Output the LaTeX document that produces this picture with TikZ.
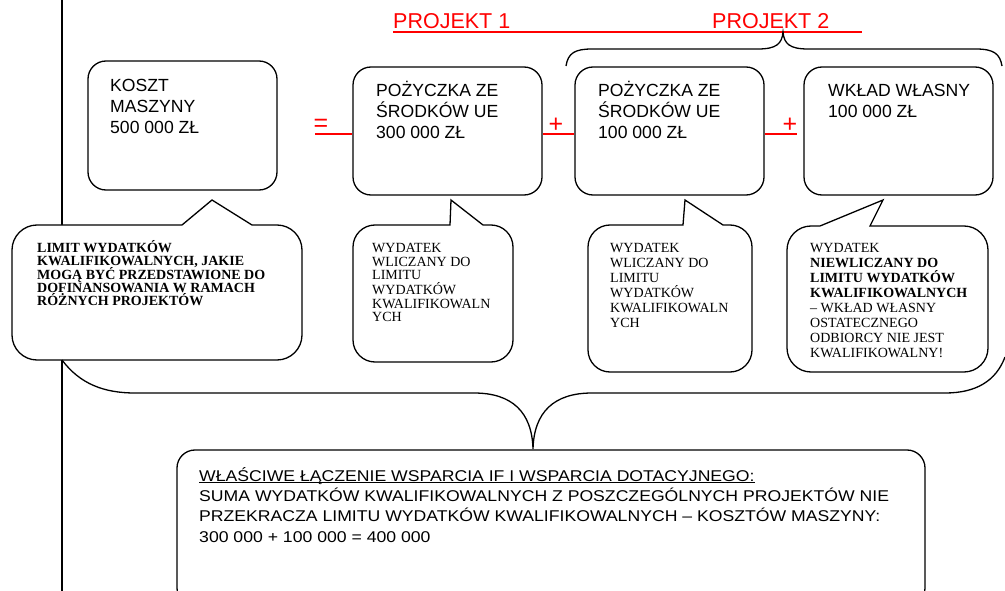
\documentclass[tikz,border=0pt]{standalone}
\usepackage{fontspec}
\setmainfont{Liberation Sans}
\newfontfamily\serifc{Liberation Serif}
\newfontfamily\sanswide{Liberation Sans}[FakeStretch=1.13]
\newcommand\ml[1]{\vtop{\lineskiplimit=-100pt\relax\lineskip=0pt\relax\let\\\cr\halign{##\hfil\cr#1\crcr}}}
% callout: x1,y1,x2,y2,r,pointer-left,tipx,tipy,pointer-right
\newcommand\calloutpath[9]{(#6,#2) -- (#7,#8) -- (#9,#2) -- ({#3-#5},#2)
 .. controls ({#3-0.45*#5},#2) and (#3,{#2+0.45*#5}) .. (#3,{#2+#5})
 -- (#3,{#4-#5}) .. controls (#3,{#4-0.45*#5}) and ({#3-0.45*#5},#4) .. ({#3-#5},#4)
 -- ({#1+#5},#4) .. controls ({#1+0.45*#5},#4) and (#1,{#4-0.45*#5}) .. (#1,{#4-#5})
 -- (#1,{#2+#5}) .. controls (#1,{#2+0.45*#5}) and ({#1+0.45*#5},#2) .. ({#1+#5},#2) -- cycle}
\begin{document}
\begin{tikzpicture}[x=1pt,y=-1pt,
  box/.style={draw, line width=1.3pt, rounded corners=18pt, inner sep=0pt},
  call/.style={draw, fill=white, line width=1.3pt},
  brace/.style={draw, line width=1.3pt},
  redline/.style={draw=red, line width=2pt},
  txt/.style={inner sep=0pt, anchor=base west},
  boxtxt/.style={txt, font=\fontsize{17.6}{20.7}\selectfont},
  calltxt/.style={txt, font=\serifc\fontsize{14}{14}\selectfont},
  calltxtb/.style={txt, font=\serifc\fontsize{14}{15}\selectfont},
  sign/.style={inner sep=0pt, text=red, font=\fontsize{25}{25}\selectfont},
  proj/.style={txt, text=red, font=\fontsize{21.5}{24}\selectfont}]
\clip (0,0) rectangle (1005,591);
\fill[white] (0,0) rectangle (1005,591);

% vertical rule
\coordinate (vtop) at (62,0);
\coordinate (vbot) at (62,591);
\draw[line width=2pt] (vtop) -- (vbot);

% project headings
\node[proj] (pr1) at (393,29) {PROJEKT 1};
\node[proj] (pr2) at (712,29) {PROJEKT 2};
\coordinate (ulend) at (862,32);
\draw[redline] (pr1.base west) ++(0,3) -- (ulend);

% top brace
\coordinate (tbl) at (566,66);
\coordinate (tbtip) at (783,32);
\coordinate (tbr) at (1002,66);
\draw[brace] (tbl) .. controls (568,53) and (575,49) .. (592,49) -- (758,49)
  .. controls (776,49) and (782,44) .. (tbtip)
  .. controls (784,44) and (790,49) .. (808,49) -- (976,49)
  .. controls (994,49) and (1000,54) .. (tbr);

% boxes
\node[box, minimum width=189pt, minimum height=129pt] (b1) at (182.5,125.5) {};
\node[box, minimum width=189pt, minimum height=128pt] (b2) at (447.5,131) {};
\node[box, minimum width=189pt, minimum height=128pt] (b3) at (669.5,131) {};
\node[box, minimum width=189pt, minimum height=128pt] (b4) at (898.5,131) {};

\node[boxtxt] (t1) at (110,91.7) {\ml{KOSZT\\MASZYNY\\500 000 ZŁ}};
\node[boxtxt] (t2) at (376,97) {\ml{POŻYCZKA ZE\\ŚRODKÓW UE\\300 000 ZŁ}};
\node[boxtxt] (t3) at (598,97) {\ml{POŻYCZKA ZE\\ŚRODKÓW UE\\100 000 ZŁ}};
\node[boxtxt] (t4) at (828,97) {\ml{WKŁAD WŁASNY\\100 000 ZŁ}};

% red connectors and signs
\coordinate (e1) at (315,134);
\coordinate (e4) at (797,134);
\draw[redline] (e1) -- (b2.west |- e1);
\draw[redline] (b2.east |- e1) -- (b3.west |- e1);
\draw[redline] (b3.east |- e1) -- (e4);
\node[sign] (eq) at (321,125) {=};
\node[sign] (pl1) at (556,125) {+};
\node[sign] (pl2) at (790,125) {+};

% callouts
\draw[call] \calloutpath{12}{225}{302}{360}{25}{182}{212}{200}{252};
\draw[call] \calloutpath{353}{225}{513}{362}{22}{450}{451}{200}{483};
\draw[call] \calloutpath{588}{225}{752}{372}{22}{683}{685}{200}{723};
\draw[call] \calloutpath{787}{226}{988}{372}{24}{820}{883}{200}{870};

\node[calltxt, font=\serifc\bfseries\fontsize{14}{13.5}\selectfont] (c1) at (37,252)
  {\ml{LIMIT WYDATKÓW\\KWALIFIKOWALNYCH, JAKIE\\MOGĄ BYĆ PRZEDSTAWIONE DO\\DOFINANSOWANIA W RAMACH\\RÓŻNYCH PROJEKTÓW}};
\node[calltxt] (c2) at (372,252)
  {\ml{WYDATEK\\WLICZANY DO\\LIMITU\\WYDATKÓW\\KWALIFIKOWALN\\YCH}};
\node[calltxtb] (c3) at (610,252)
  {\ml{WYDATEK\\WLICZANY DO\\LIMITU\\WYDATKÓW\\KWALIFIKOWALN\\YCH}};
\node[calltxtb] (c4) at (810,252)
  {\ml{WYDATEK\\\textbf{NIEWLICZANY DO}\\\textbf{LIMITU WYDATKÓW}\\\textbf{KWALIFIKOWALNYCH}\\– WKŁAD WŁASNY\\OSTATECZNEGO\\ODBIORCY NIE JEST\\KWALIFIKOWALNY!}};

% bottom brace
\coordinate (bbl) at (62,360);
\coordinate (bbtip) at (533,449);
\coordinate (bbr) at (1005,357);
\draw[brace] (bbl) .. controls (80,384) and (104,393) .. (135,393) -- (474,393)
  .. controls (512,393) and (532,412) .. (bbtip)
  .. controls (534,412) and (554,393) .. (592,393) -- (945,393)
  .. controls (976,393) and (996,381) .. (bbr);

% bottom box
\node[box, minimum width=748pt, minimum height=156pt] (bot) at (551,528) {};
\node[txt, font=\sanswide\fontsize{15.6}{20.4}\selectfont] (bt) at (199,481)
  {\ml{\underline{\smash{WŁAŚCIWE ŁĄCZENIE WSPARCIA IF I WSPARCIA DOTACYJNEGO:}}\\
  SUMA WYDATKÓW KWALIFIKOWALNYCH Z POSZCZEGÓLNYCH PROJEKTÓW NIE\\
  PRZEKRACZA LIMITU WYDATKÓW KWALIFIKOWALNYCH – KOSZTÓW MASZYNY:\\
  300 000 + 100 000 = 400 000}};
\end{tikzpicture}
\end{document}
